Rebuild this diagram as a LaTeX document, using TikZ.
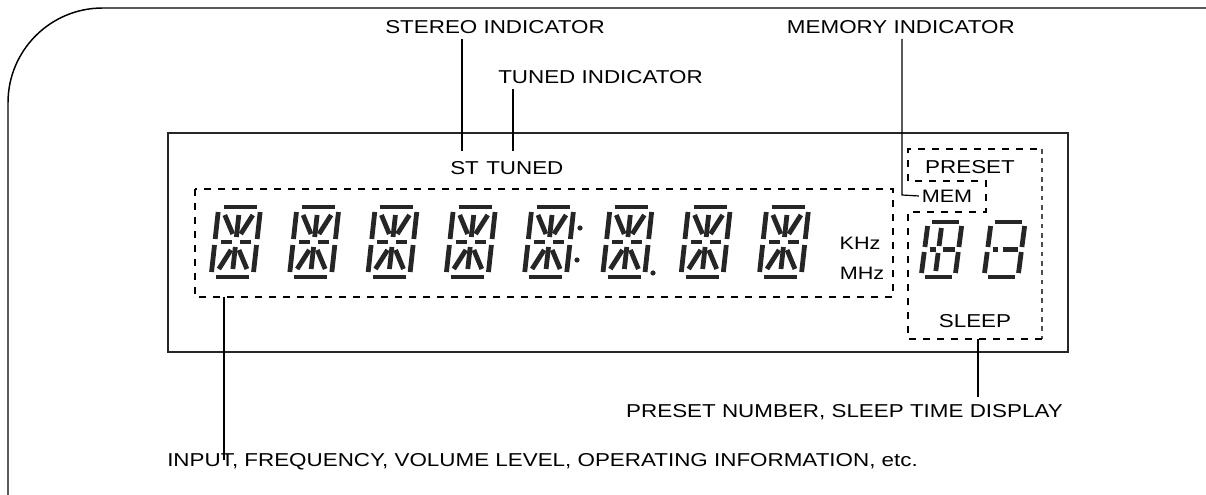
\documentclass[tikz,border=0pt]{standalone}
\usepackage{fontspec}
\setmainfont[FakeStretch=1.2]{Liberation Sans}
\newcommand\sgm[4]{\draw[seg] ({#1+\slnt*#2},{-#2}) -- ({#3+\slnt*#4},{-#4});}
\def\slnt{0.11}
\begin{document}
\begin{tikzpicture}[x=0.75pt,y=-0.75pt,
  lab/.style={font=\fontsize{14}{16}\selectfont, inner sep=0pt},
  sml/.style={font=\fontsize{13.5}{15}\selectfont, inner sep=0pt},
  lead/.style={line width=0.9pt},
  dsh/.style={line width=0.8pt, dash pattern=on 5pt off 5.5pt},
  dshr/.style={line width=0.8pt, black!70, dash pattern=on 3.5pt off 3.5pt},
  seg/.style={line width=3.6pt, black!85},
  frame/.style={line width=1.1pt},
  lcd/.style={line width=1.9pt, black!85}]
\useasboundingbox (0,0) rectangle (1206,495);
% outer frame
\draw[frame, rounded corners=71pt] (8,495) -- (8,8) -- (1206,8);
% display panel
\draw[lcd] (168,133) rectangle (1068,352);
% dashed areas
\draw[dsh] (195,189) rectangle (893,297);
\draw[dsh] (908,181) -- (908,149) -- (1042,149);
\draw[dshr] (1042,149) -- (1042,339);
\draw[dsh] (1042,339) -- (908,339) -- (908,212) -- (986,212) -- (986,181) -- (908,181);
% 14-segment digits
\foreach \xo in {211,289.3,367.6,445.9,524.2,602.5,680.8,759.1}{
 \begin{scope}[shift={(\xo,277)}]
  \sgm{5}{70}{38}{70}
  \sgm{5}{0}{38}{0}
  \sgm{0}{38}{0}{65}
  \sgm{0}{5}{0}{32}
  \sgm{42}{38}{42}{65}
  \sgm{42}{5}{42}{32}
  \sgm{21}{40}{21}{62}
  \sgm{21}{8}{21}{30}
  \sgm{6}{35}{17}{35}
  \sgm{25}{35}{36}{35}
  \sgm{7}{62}{17}{43}
  \sgm{35}{62}{25}{43}
  \sgm{17}{27}{7}{8}
  \sgm{25}{27}{35}{8}
 \end{scope}}
\fill[black!85] (580,228) circle (2.6) (577,260) circle (2.6) (653,273) circle (2.6);
% preset number digits
\def\slnt{0.13}
\begin{scope}[shift={(921,277)}]
  \sgm{4}{55}{31}{55}
  \sgm{4}{0}{31}{0}
  \sgm{0}{30}{0}{51}
  \sgm{0}{4}{0}{25}
  \sgm{34}{30}{34}{51}
  \sgm{34}{4}{34}{25}
  \sgm{14}{31}{14}{49}
  \sgm{14}{6}{14}{24}
  \sgm{5}{27.5}{11}{27.5}
  \sgm{18}{27.5}{30}{27.5}
\end{scope}
\begin{scope}[shift={(984,277)}]
  \sgm{4}{55}{31}{55}
  \sgm{4}{0}{31}{0}
  \sgm{0}{30}{0}{51}
  \sgm{0}{4}{0}{25}
  \sgm{34}{30}{34}{51}
  \sgm{34}{4}{34}{25}
  \sgm{5}{27.5}{10}{27.5}
  \sgm{15}{27.5}{30}{27.5}
\end{scope}
% texts in display
\node[lab, anchor=west] (st) at (450,168) {ST};
\node[lab, anchor=west] (tuned) at (486,168) {TUNED};
\node[lab] (preset) at (970,167) {PRESET};
\node[sml] (mem) at (947,196) {MEM};
\node[sml] (khz) at (860,243) {KHz};
\node[sml] (mhz) at (862,273) {MHz};
\node[lab] (sleep) at (975,321) {SLEEP};
% labels
\node[lab, anchor=west] (stereo) at (385,27) {STEREO INDICATOR};
\node[lab, anchor=west] (tunedlab) at (498,77) {TUNED INDICATOR};
\node[lab, anchor=east] (memory) at (1015,27) {MEMORY INDICATOR};
\node[lab, anchor=east] (presetnum) at (1063,412) {PRESET NUMBER, SLEEP TIME DISPLAY};
\node[lab, anchor=west] (input) at (167,462) {INPUT, FREQUENCY, VOLUME LEVEL, OPERATING INFORMATION, etc.};
% leaders
\coordinate (stx) at (462,151);
\coordinate (tux) at (513,151);
\coordinate (mk) at (902,195);
\coordinate (inx) at (224,297);
\coordinate (psx) at (978,339);
\draw[lead] (stx |- stereo.south) ++(0,5) -- (stx);
\draw[lead] (tux |- tunedlab.south) ++(0,5) -- (tux);
\draw[lead] (mk |- memory.south) ++(0,5) -- (mk) -- ([xshift=-2pt]mem.west);
\draw[lead] (inx) -- ([yshift=-5pt]inx |- input.north);
\draw[lead] (psx) -- ([yshift=5pt]psx |- presetnum.north);
\end{tikzpicture}
\end{document}
